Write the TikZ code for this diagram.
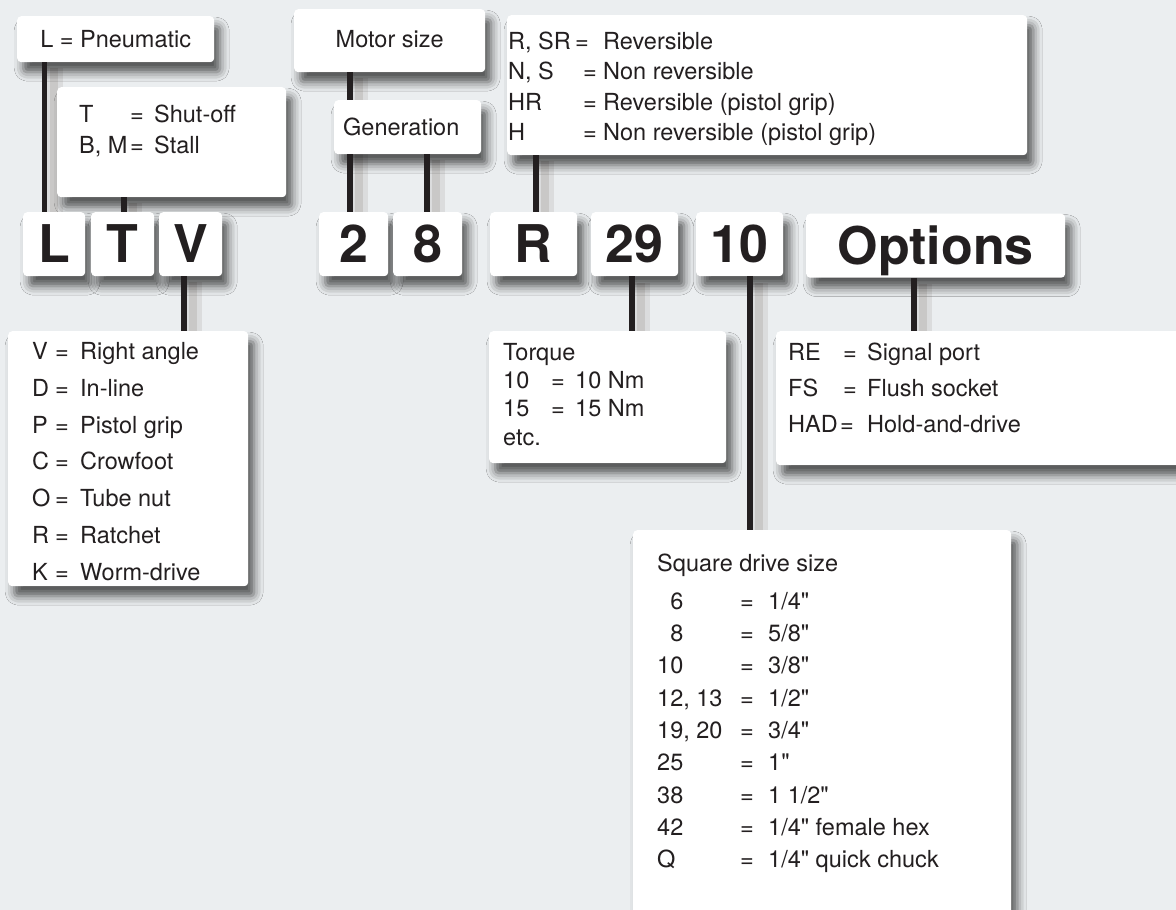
\documentclass[tikz,border=0pt]{standalone}
\usepackage{fontspec}
\setmainfont{TeX Gyre Heros}[Ligatures=TeXOff]
\usepackage{array}
\usetikzlibrary{shadows.blur}
\definecolor{bgc}{RGB}{235,238,240}
\definecolor{ink}{RGB}{35,31,32}
\definecolor{lsh}{RGB}{140,130,124}
\pgfdeclarelayer{fg}
\pgfsetlayers{main,fg}
\begin{document}
\begin{tikzpicture}[x=1pt,y=-1pt, color=ink,
  box/.style={fill=white, draw=none, rounded corners=4pt, inner sep=0pt, anchor=north west,
     blur shadow={shadow xshift=6pt, shadow yshift=-10pt, shadow blur radius=9pt, shadow opacity=65}},
  small/.style={font=\fontsize{23.5}{28}\selectfont, text height=17pt, text depth=0pt},
  big/.style={box, font=\fontsize{52}{52}\selectfont\bfseries, text height=37.5pt, text depth=0pt, minimum height=64pt},
  lst/.style={anchor=north west, inner sep=0pt},
  conn/.style={line width=5.5pt, draw=ink},
  lshadowa/.style={line width=16pt, draw=lsh, draw opacity=.16, transform canvas={xshift=10pt,yshift=-6pt}},
  lshadowb/.style={line width=8pt, draw=lsh, draw opacity=.22, transform canvas={xshift=9pt,yshift=-6pt}},
]
\useasboundingbox (0,0) rectangle (1176,910);
\clip (0,0) rectangle (1176,910);
\fill[bgc] (0,0) rectangle (1176,910);

% x positions of the connectors
\coordinate (xL) at (44.5,0);
\coordinate (xT) at (124,0);
\coordinate (xV) at (184,0);
\coordinate (xTwo) at (350,0);
\coordinate (xEight) at (427,0);
\coordinate (xR) at (536,0);
\coordinate (xTN) at (632,0);
\coordinate (xTen) at (750,0);
\coordinate (xOpt) at (914,0);

% connector shadows
\foreach \xx/\ya/\yb in {44.5/62/212, 124/197/212, 350/72/212, 427/154/212, 536/155/212,
                         184/276/331, 632/277/331, 750/277/530, 914/278/331}{
  \draw[lshadowa] (\xx,\ya) -- (\xx,\yb);
  \draw[lshadowb] (\xx,\ya) -- (\xx,\yb);
}

% top boxes
\node[box, small, minimum width=197pt, minimum height=46pt] (pneu) at (17,16) {L = Pneumatic};
\node[box, minimum width=229pt, minimum height=110pt] (tbox) at (57,87) {};
\node[box, small, text depth=4pt, minimum width=191pt, minimum height=63pt] (motor) at (294,9) {Motor size};
\node[box, small, text width=129pt, align=left, inner xsep=9pt, minimum height=54pt] (gen) at (334,100) {Generation};
\node[box, minimum width=520pt, minimum height=140pt] (rtop) at (507,15) {};

% letter row
\node[big, minimum width=62pt] (bL) at (23,212) {L};
\node[big, minimum width=63pt] (bT) at (91,212) {T};
\node[big, minimum width=63pt] (bV) at (159,212) {V};
\node[big, minimum width=69pt] (bTwo) at (319,212) {2};
\node[big, minimum width=69pt] (bEight) at (393,212) {8};
\node[big, minimum width=87pt] (bR) at (490,212) {R};
\node[big, minimum width=87pt] (bTN) at (591,212) {29};
\node[big, minimum width=87pt] (bTen) at (696,212) {10};
\node[big, minimum width=259pt] (bOpt) at (806,213.5) {Options};

% lower boxes
\node[box, minimum width=240pt, minimum height=255pt] (vlist) at (8,331) {};
\node[box, minimum width=237pt, minimum height=132pt] (torque) at (489,331) {};
\node[box, minimum width=420pt, minimum height=134pt] (optlist) at (776,331) {};
\node[box, minimum width=378pt, minimum height=420pt] (square) at (633,530) {};

% texts of the list boxes
\node[lst, font=\fontsize{23.5}{30.2}\selectfont] (ttext) at (79,101.5) {%
\begin{tabular}{@{}p{51pt}@{}p{24pt}@{}l@{}}
T & = & Shut-off\\
B, M & = & Stall
\end{tabular}};

\node[lst, font=\fontsize{23.5}{30.2}\selectfont] (rtext) at (508,28.4) {%
\begin{tabular}{@{}p{75pt}@{}p{20pt}@{}l@{}}
R, SR & \hspace*{-8pt}= & Reversible\\
N, S & = & Non reversible\\
HR & = & Reversible (pistol grip)\\
H & = & Non reversible (pistol grip)
\end{tabular}};

\node[lst, font=\fontsize{23.5}{36.8}\selectfont] (vtext) at (32,333.5) {%
\begin{tabular}{@{}p{23pt}@{}p{25pt}@{}l@{}}
V & = & Right angle\\
D & = & In-line\\
P & = & Pistol grip\\
C & = & Crowfoot\\
O & = & Tube nut\\
R & = & Ratchet\\
K & = & Worm-drive
\end{tabular}};

\node[lst, font=\fontsize{23.5}{28.2}\selectfont] (torquetext) at (503,340.5) {%
\begin{tabular}{@{}p{48pt}@{}p{24pt}@{}l@{}}
\multicolumn{3}{@{}l@{}}{Torque}\\
10 & = & 10 Nm\\
15 & = & 15 Nm\\
\multicolumn{3}{@{}l@{}}{etc.}
\end{tabular}};

\node[lst, font=\fontsize{23.5}{36.3}\selectfont] (opttext) at (788,334.6) {%
\begin{tabular}{@{}p{55pt}@{}p{24pt}@{}l@{}}
RE & = & Signal port\\
FS & = & Flush socket\\
HAD & \hspace*{-3pt}= & Hold-and-drive
\end{tabular}};

\node[lst, font=\fontsize{23.5}{32.3}\selectfont] (sqtext) at (657,549.1) {%
\begin{tabular}{@{}p{83pt}@{}p{28pt}@{}l@{}}
\multicolumn{3}{@{}l@{}}{Square drive size}\\[5pt]
\phantom{1}6 & = & 1/4"\\
\phantom{1}8 & = & 5/8"\\
10 & = & 3/8"\\
12, 13 & = & 1/2"\\
19, 20 & = & 3/4"\\
25 & = & 1"\\
38 & = & 1 1/2"\\
42 & = & 1/4" female hex\\
Q & = & 1/4" quick chuck
\end{tabular}};

% connectors
\begin{pgfonlayer}{fg}
\draw[conn] (pneu.south -| xL) -- (bL.north -| xL);
\draw[conn] (tbox.south -| xT) -- (bT.north -| xT);
\draw[conn] (motor.south -| xTwo) -- (gen.north -| xTwo);
\draw[conn] (gen.south -| xTwo) -- (bTwo.north -| xTwo);
\draw[conn] (gen.south -| xEight) -- (bEight.north -| xEight);
\draw[conn] (rtop.south -| xR) -- (bR.north -| xR);
\draw[conn] (bV.south -| xV) -- (vlist.north -| xV);
\draw[conn] (bTN.south -| xTN) -- (torque.north -| xTN);
\draw[conn] (bTen.south -| xTen) -- (square.north -| xTen);
\draw[conn] (bOpt.south -| xOpt) -- (optlist.north -| xOpt);
\end{pgfonlayer}
\end{tikzpicture}
\end{document}
